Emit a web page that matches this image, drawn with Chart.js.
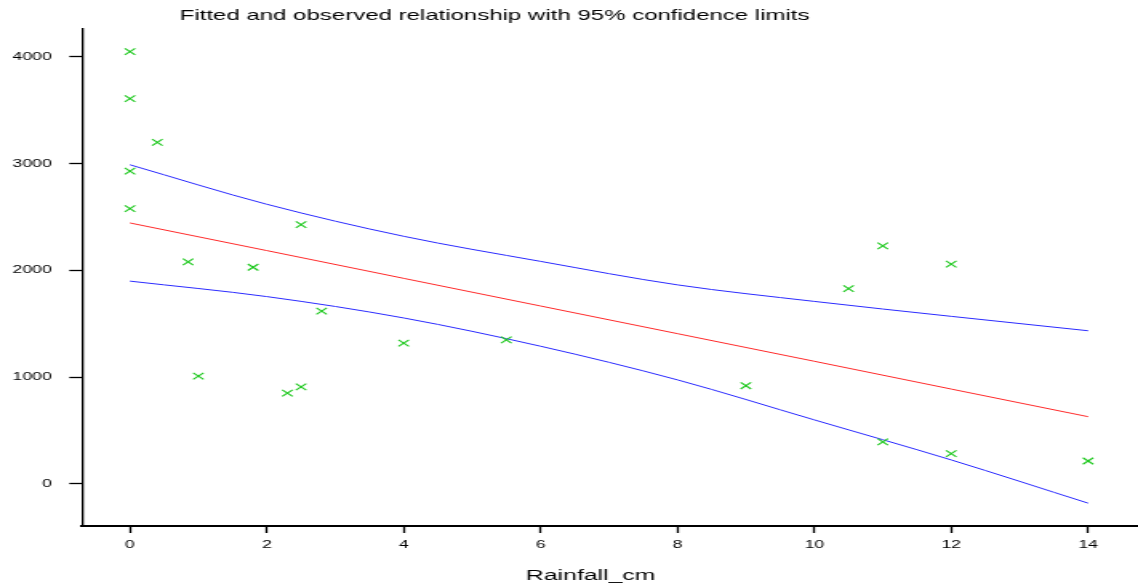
<!DOCTYPE html>
<html>
<head>
<meta charset="utf-8">
<script src="https://cdn.jsdelivr.net/npm/chart.js@4/dist/chart.umd.min.js"></script>
<style>
  html, body { margin: 0; padding: 0; background: #fff; overflow: hidden; }
  /* the reference is horizontally stretched, so draw narrow and stretch */
  #wrap { width: 711px; height: 584px; transform: scaleX(1.6006); transform-origin: 0 0; }
</style>
</head>
<body>
<div id="wrap"><canvas id="fitChart"></canvas></div>
<script>
// observed points
const rainfall = [0, 0, 0.4, 0, 0, 0.85, 1.8, 2.5, 2.8, 1.0, 2.3, 2.5, 4.0, 5.5, 9.0, 10.5, 11.0, 12.0, 11.0, 12.0, 14.0];
const observed = [4050, 3610, 3200, 2930, 2580, 2080, 2030, 2430, 1620, 1010, 850, 910, 1320, 1350, 920, 1830, 2230, 2060, 395, 285, 215];

// fitted line and 95% limits
const curveX = [0, 2, 4, 6, 8, 10, 12, 14];
const fitted = [2445, 2186, 1926, 1667, 1408, 1149, 889, 630];
const upper = [2990, 2620, 2320, 2085, 1865, 1710, 1570, 1435];
const lower = [1900, 1755, 1555, 1290, 975, 600, 225, -180];

// axis ticks
const xTicks = [0, 2, 4, 6, 8, 10, 12, 14];
const yTicks = [0, 1000, 2000, 3000, 4000];

const titleText = 'Fitted and observed relationship with 95% confidence limits';
const xTitle = 'Rainfall_cm';

function pairs(xs, ys) {
    return xs.map((x, i) => ({ x: x, y: ys[i] }));
}

const FONT = '"Liberation Sans", Arial, sans-serif';

// titles drawn by hand so they sit where the reference has them
const textPlugin = {
    id: 'texts',
    afterDraw(chart) {
        const ctx = chart.ctx;
        ctx.save();
        ctx.fillStyle = '#000';
        ctx.textAlign = 'center';
        ctx.textBaseline = 'alphabetic';
        ctx.font = '15px ' + FONT;
        ctx.fillText(titleText, 309, 20);
        ctx.font = '15.5px ' + FONT;
        ctx.fillText(xTitle, 369, 580);
        ctx.restore();
    }
};

new Chart(document.getElementById('fitChart'), {
    type: 'scatter',
    data: {
        datasets: [
            {
                label: 'observed',
                data: pairs(rainfall, observed),
                pointStyle: 'crossRot',
                pointRadius: 4.6,
                pointBorderWidth: 1.1,
                borderColor: '#1ec81e',
                backgroundColor: '#1ec81e',
                showLine: false
            },
            {
                label: 'upper',
                data: pairs(curveX, upper),
                showLine: true,
                borderColor: '#2a2aff',
                borderWidth: 1,
                pointRadius: 0,
                cubicInterpolationMode: 'monotone'
            },
            {
                label: 'fitted',
                data: pairs(curveX, fitted),
                showLine: true,
                borderColor: '#ff2a2a',
                borderWidth: 1,
                pointRadius: 0,
                tension: 0
            },
            {
                label: 'lower',
                data: pairs(curveX, lower),
                showLine: true,
                borderColor: '#2a2aff',
                borderWidth: 1,
                pointRadius: 0,
                cubicInterpolationMode: 'monotone'
            }
        ]
    },
    options: {
        responsive: true,
        maintainAspectRatio: false,
        animation: false,
        layout: { autoPadding: false, padding: { top: 29, left: 0, right: 0, bottom: 0 } },
        plugins: {
            legend: { display: false },
            tooltip: { enabled: false },
            title: { display: false }
        },
        scales: {
            x: {
                type: 'linear',
                min: -0.7,
                max: 14.73,
                afterBuildTicks(scale) { scale.ticks = xTicks.map(v => ({ value: v })); },
                afterFit(scale) {
                    scale.height = 58;
                    scale.paddingLeft = 0;
                    scale.paddingRight = 0;
                },
                border: { display: true, color: '#000', width: 2 },
                grid: { drawOnChartArea: false, drawTicks: true, tickLength: 7, tickColor: '#000', tickWidth: 1.3 },
                ticks: {
                    color: '#000',
                    padding: 5,
                    maxRotation: 0,
                    callback: v => String(v),
                    font: { family: FONT, size: 11 }
                }
            },
            y: {
                type: 'linear',
                min: -394,
                max: 4262,
                afterBuildTicks(scale) { scale.ticks = yTicks.map(v => ({ value: v })); },
                afterFit(scale) {
                    scale.width = 51.25;
                    scale.paddingTop = 0;
                    scale.paddingBottom = 0;
                },
                border: { display: true, color: '#000', width: 1.3 },
                grid: { drawOnChartArea: false, drawTicks: true, tickLength: 8, tickColor: '#000', tickWidth: 1.3 },
                ticks: {
                    color: '#000',
                    padding: 11,
                    callback: v => String(v),
                    font: { family: FONT, size: 11 }
                }
            }
        }
    },
    plugins: [textPlugin]
});
</script>
</body>
</html>
